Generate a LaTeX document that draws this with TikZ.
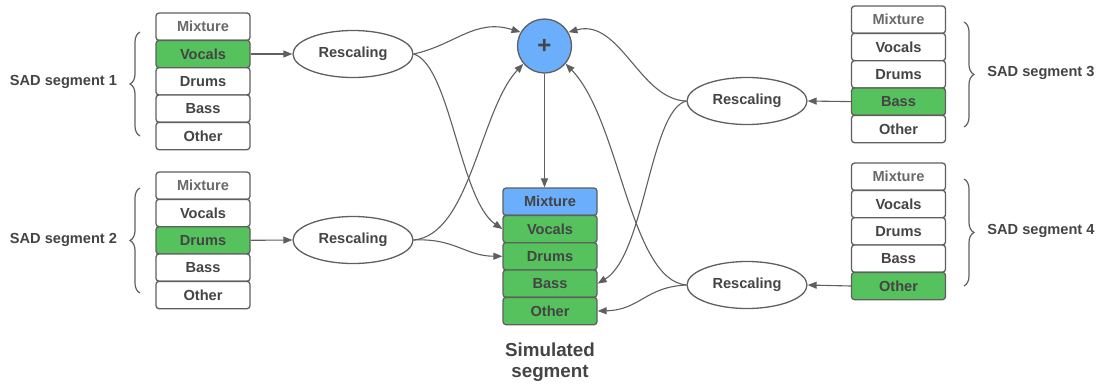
\documentclass[tikz,border=0pt]{standalone}
\usepackage{fontspec}
\setmainfont{Liberation Sans}
\usetikzlibrary{arrows.meta,decorations.pathreplacing,shapes.geometric}
\definecolor{edge}{HTML}{5F5F5F}
\definecolor{txt}{HTML}{444444}
\definecolor{mixtxt}{HTML}{6A6A6A}
\definecolor{grn}{HTML}{55C25E}
\definecolor{blu}{HTML}{6AAEFC}
\begin{document}
\begin{tikzpicture}[x=1pt,y=-1pt,
  every node/.style={font=\fontsize{14.6}{17}\selectfont\bfseries, text=txt},
  cell/.style={draw=edge, line width=1.3pt, rounded corners=3pt, minimum width=94pt, minimum height=27.3pt, inner sep=0pt, fill=white},
  gcell/.style={cell, fill=grn},
  bcell/.style={cell, fill=blu},
  mix/.style={text=mixtxt},
  resc/.style={draw=edge, line width=1.3pt, ellipse, minimum width=120pt, minimum height=47pt, inner sep=0pt},
  conn/.style={draw=edge, line width=1.1pt, -{Triangle[length=9pt,width=7pt]}},
  brc/.style={draw=edge, line width=1.2pt, decorate, decoration={brace, amplitude=10pt}},
  lbl/.style={inner sep=0pt}
]
\useasboundingbox (0,0) rectangle (1101,389);
% stack 1
\node[cell,mix] (a1) at (203,26.7) {Mixture};
\node[gcell] (a2) at (203,54) {Vocals};
\node[cell] (a3) at (203,81.3) {Drums};
\node[cell] (a4) at (203,108.6) {Bass};
\node[cell] (a5) at (203,136) {Other};
% stack 2
\node[cell,mix] (b1) at (203,185.7) {Mixture};
\node[cell] (b2) at (203,213) {Vocals};
\node[gcell] (b3) at (203,240.3) {Drums};
\node[cell] (b4) at (203,267.6) {Bass};
\node[cell] (b5) at (203,295) {Other};
% stack 3
\node[cell,mix] (c1) at (898.5,19.7) {Mixture};
\node[cell] (c2) at (898.5,47) {Vocals};
\node[cell] (c3) at (898.5,74.3) {Drums};
\node[gcell] (c4) at (898.5,101.6) {Bass};
\node[cell] (c5) at (898.5,129) {Other};
% stack 4
\node[cell,mix] (d1) at (898.5,176.7) {Mixture};
\node[cell] (d2) at (898.5,204) {Vocals};
\node[cell] (d3) at (898.5,231.3) {Drums};
\node[cell] (d4) at (898.5,258.6) {Bass};
\node[gcell] (d5) at (898.5,286) {Other};
% simulated
\node[bcell] (s1) at (550,201.7) {Mixture};
\node[gcell] (s2) at (550,229) {Vocals};
\node[gcell] (s3) at (550,256.3) {Drums};
\node[gcell] (s4) at (550,283.6) {Bass};
\node[gcell] (s5) at (550,311) {Other};
\node[lbl, align=center, font=\fontsize{18.8}{21}\selectfont\bfseries] (sim) at (550,362) {Simulated\\segment};
% rescaling
\node[resc] (r1) at (353,54) {Rescaling};
\node[resc] (r2) at (353,240) {Rescaling};
\node[resc] (r3) at (747,101) {Rescaling};
\node[resc] (r4) at (747,285) {Rescaling};
% plus
\node[circle, draw=edge, line width=1.3pt, fill=blu, minimum size=54pt, inner sep=0pt, font=\fontsize{24}{24}\selectfont\bfseries] (plus) at (544.5,46) {+};
% labels
\node[lbl] (l1) at (63.5,82) {SAD segment 1};
\node[lbl] (l2) at (63.5,240) {SAD segment 2};
\node[lbl] (l3) at (1041,73) {SAD segment 3};
\node[lbl] (l4) at (1041,231) {SAD segment 4};
% braces
\draw[brc] (140,136) -- (140,32);
\draw[brc] (140,293) -- (140,188);
\draw[brc] (964,22) -- (964,127);
\draw[brc] (964,179) -- (964,286);
% connectors
\draw[conn] (a2.east) -- (r1.west);
\draw[conn] (b3.east) -- (r2.west);
\draw[conn] (c4.west) -- (r3.east);
\draw[conn] (d5.west) -- (r4.east);
\draw[conn] (plus.south) -- (plus.south |- s1.north);
\draw[conn] (r1.east) .. controls (455,45) and (475,18) .. (plus.150);
\draw[conn] (r1.east) .. controls (450,65) and (460,200) .. (s2.west);
\draw[conn] (r2.east) .. controls (470,235) and (480,110) .. (plus.220);
\draw[conn] (r2.east) .. controls (455,238) and (465,256) .. (s3.west);
\draw[conn] (r3.west) .. controls (640,100) and (620,18) .. (plus.30);
\draw[conn] (r3.west) .. controls (650,110) and (645,255) .. (s4.east);
\draw[conn] (r4.west) .. controls (630,280) and (620,120) .. (plus.-40);
\draw[conn] (r4.west) .. controls (645,287) and (640,310) .. (s5.east);
\end{tikzpicture}
\end{document}
